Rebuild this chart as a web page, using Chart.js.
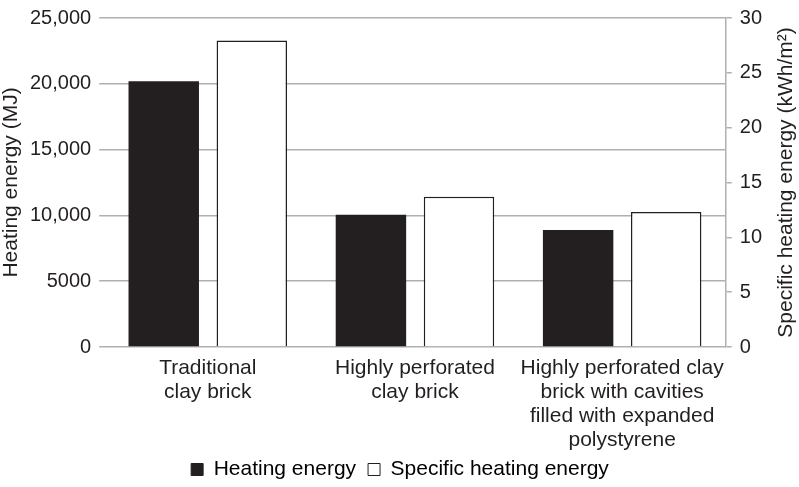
<!DOCTYPE html>
<html>
<head>
<meta charset="utf-8">
<script src="https://cdn.jsdelivr.net/npm/chart.js@4"></script>
<style>
  html,body{margin:0;padding:0;background:#fff;}
  #wrap{width:799px;height:487px;}
</style>
</head>
<body>
<div id="wrap"><canvas id="chart" width="799" height="487"></canvas></div>
<script>
const categories = [
  ['Traditional', 'clay brick'],
  ['Highly perforated', 'clay brick'],
  ['Highly perforated clay', 'brick with cavities', 'filled with expanded', 'polystyrene']
];
const heatingEnergy = [20200, 10050, 8900];       // MJ
const specificHeating = [27.95, 13.7, 12.3];        // kWh/m2
const leftTicks = [0, 5000, 10000, 15000, 20000, 25000];
const rightTicks = [0, 5, 10, 15, 20, 25, 30];
const rightTitle = 'Specific heating energy (kWh/m²)';

const ink = '#231f20';
const gridGray = '#b0b0b0';
const family = '"Liberation Sans", Arial, sans-serif';
const tickFont = {family, size:20, lineHeight:1};
const labelFont = {family, size:21, lineHeight:1.15};
const titleFont = {family, size:21};
Chart.defaults.color = ink;
Chart.defaults.font = tickFont;

const fmtLeft = v => v >= 10000 ? v.toLocaleString('en-US') : String(v);

// right title reads bottom-to-top in the original, Chart.js draws it the other way
const rightTitlePlugin = {
  id:'rightTitle',
  afterDraw(chart){
    const s = chart.scales.y1, ctx = chart.ctx;
    ctx.save();
    ctx.translate(s.right - 13, (s.top + s.bottom) / 2);
    ctx.rotate(-Math.PI / 2);
    ctx.textAlign = 'center'; ctx.textBaseline = 'middle';
    ctx.fillStyle = ink; ctx.font = `21px ${family}`;
    ctx.fillText(rightTitle, 0, 0);
    ctx.restore();
  }
};

new Chart(document.getElementById('chart'), {
  type:'bar',
  data:{
    labels:categories,
    datasets:[
      {label:'Heating energy', data:heatingEnergy, yAxisID:'y', backgroundColor:ink, borderColor:ink, borderWidth:0},
      {label:'Specific heating energy', data:specificHeating, yAxisID:'y1', backgroundColor:'#fff', borderColor:ink, borderWidth:1.5}
    ]
  },
  options:{
    responsive:false,
    animation:false,
    devicePixelRatio:1,
    categoryPercentage:0.85,
    barPercentage:0.8,
    layout:{padding:{top:4, right:0, left:1, bottom:-3}},
    plugins:{
      tooltip:{enabled:false},
      legend:{
        position:'bottom',
        labels:{
          boxWidth:12, boxHeight:12, padding:12, color:ink, font:titleFont,
          generateLabels: ch => ch.data.datasets.map((d,i) => ({
            text:d.label, fillStyle:d.backgroundColor, strokeStyle:ink, lineWidth:1, datasetIndex:i
          }))
        }
      }
    },
    scales:{
      x:{
        grid:{display:false},
        border:{display:false},
        ticks:{color:ink, font:labelFont, maxRotation:0, autoSkip:false, padding:1},
        afterFit: s => {
          s.height = 100;
          // the last label runs into the legend band, so don't clip it to the axis box
          s._computeLabelArea = () => undefined;
        }
      },
      y:{
        position:'left', min:0, max:25000,
        afterBuildTicks: ax => { ax.ticks = leftTicks.map(v => ({value:v})); },
        ticks:{color:ink, font:tickFont, callback:fmtLeft, padding:8},
        grid:{color:gridGray, lineWidth:1.5, tickLength:5, tickColor:gridGray},
        border:{display:false},
        title:{display:true, text:'Heating energy (MJ)', color:ink, font:titleFont, padding:{top:0, bottom:0}}
      },
      y1:{
        position:'right', min:0, max:30,
        afterBuildTicks: ax => { ax.ticks = rightTicks.map(v => ({value:v})); },
        ticks:{color:ink, font:tickFont, padding:8},
        grid:{drawOnChartArea:false, color:gridGray, lineWidth:1.5, tickLength:6, tickColor:gridGray},
        border:{display:true, color:gridGray, width:1.5},
        title:{display:true, text:rightTitle, color:'rgba(0,0,0,0)', font:titleFont, padding:{top:8, bottom:0}}
      }
    }
  },
  plugins:[rightTitlePlugin]
});
</script>
</body>
</html>
